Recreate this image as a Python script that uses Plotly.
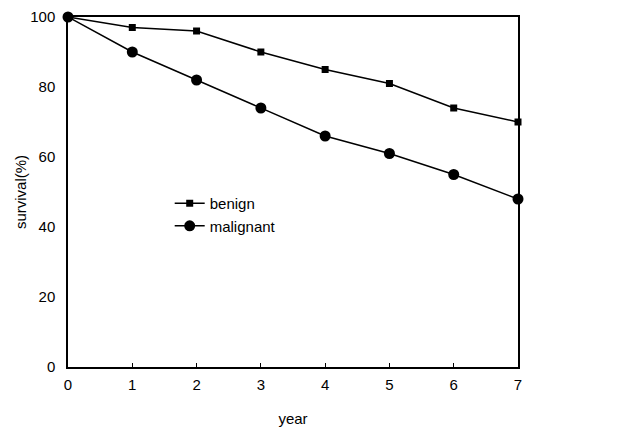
import plotly.graph_objects as go

years = [0, 1, 2, 3, 4, 5, 6, 7]
benign = [100, 97, 96, 90, 85, 81, 74, 70]
malignant = [100, 90, 82, 74, 66, 61, 55, 48]
y_ticks = [0, 20, 40, 60, 80, 100]

fig = go.Figure()
fig.add_trace(go.Scatter(x=years, y=benign, name="benign", mode="lines+markers",
                         line=dict(color="black", width=1.5),
                         marker=dict(symbol="square", size=7, color="black"),
                         cliponaxis=False))
fig.add_trace(go.Scatter(x=years, y=malignant, name="malignant", mode="lines+markers",
                         line=dict(color="black", width=1.5),
                         marker=dict(symbol="circle", size=11, color="black"),
                         cliponaxis=False))

fig.update_layout(
    width=625, height=427,
    margin=dict(l=60, r=115, t=9, b=68),
    paper_bgcolor="white", plot_bgcolor="white",
    font=dict(family="Liberation Sans, Arial, sans-serif", size=15, color="black"),
    showlegend=True,
    legend=dict(x=0.226, y=0.514, xanchor="left", yanchor="top",
                bgcolor="rgba(0,0,0,0)", font=dict(size=15),
                itemwidth=30, tracegroupgap=0),
    xaxis=dict(range=[0, 7], tickvals=years, showgrid=False, zeroline=False,
               showline=True, linecolor="black", linewidth=1.5, mirror=True,
               ticks="inside", ticklen=4, tickcolor="black", automargin=False,
               ticklabelstandoff=3,
               title=dict(text="year", font=dict(size=15), standoff=22)),
    yaxis=dict(range=[0, 100], tickvals=y_ticks, showgrid=False, zeroline=False,
               showline=True, linecolor="black", linewidth=1.5, mirror=True,
               ticks="", ticklabelstandoff=8, automargin=False,
               title=dict(text="survival(%)", font=dict(size=15), standoff=0)),
)

fig.write_html("out.html")
